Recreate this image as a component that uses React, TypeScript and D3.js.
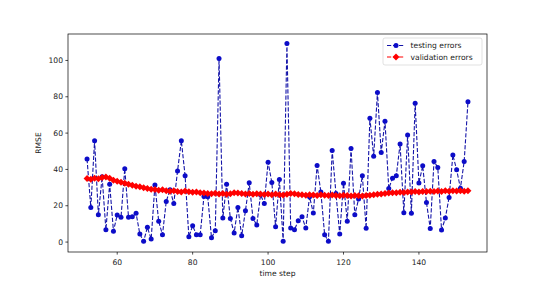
import React from 'react';
import * as d3 from 'd3';

const START_STEP = 52;

const testingErrors: number[] = [
  45.7, 19.1, 55.8, 15.0, 35.9, 6.8, 31.9, 6.0, 14.9, 13.6,
  40.4, 13.6, 14.0, 15.8, 4.4, 0.4, 8.1, 1.7, 31.4, 11.4,
  4.0, 22.4, 28.8, 21.3, 39.2, 55.8, 36.5, 2.9, 9.0, 4.0,
  4.0, 25.1, 25.0, 2.4, 6.2, 101.1, 13.2, 31.9, 13.0, 5.0,
  19.1, 3.5, 17.2, 32.6, 13.0, 9.4, 26.0, 21.3, 44.0, 32.8,
  8.4, 34.5, 0.4, 109.3, 7.7, 6.8, 11.7, 13.9, 7.7, 25.0,
  16.0, 42.2, 27.5, 4.0, 0.4, 50.4, 26.8, 4.4, 32.4, 11.5,
  51.5, 15.0, 23.7, 36.5, 7.6, 68.2, 47.2, 82.4, 49.3, 66.5,
  29.5, 35.2, 36.5, 54.0, 16.1, 58.9, 15.8, 76.5, 32.5, 42.0,
  21.8, 7.5, 44.4, 41.1, 6.6, 13.2, 24.6, 47.9, 39.8, 29.7,
  44.4, 77.2,
];

const validationErrors: number[] = [
  35.0, 34.6, 35.2, 34.8, 35.5, 35.8,
  35.2, 34.0, 33.5, 33.0, 32.4, 31.8,
  31.3, 30.8, 30.4, 29.9, 29.5, 29.1,
  28.9, 28.6, 28.8, 28.2, 28.0, 28.3,
  27.9, 27.6, 28.1, 27.7, 27.4, 27.6,
  27.2, 27.0, 26.8, 26.6, 26.9, 26.5,
  26.7, 26.3, 26.6, 27.2, 27.0, 26.8,
  26.5, 26.7, 26.3, 26.6, 26.4, 26.2,
  26.5, 26.1, 26.4, 26.0, 25.9, 26.3,
  26.8, 26.6, 26.2, 26.0, 25.8, 26.1,
  25.9, 25.7, 26.0, 25.8, 25.6, 25.9,
  25.7, 25.5, 25.8, 25.6, 25.4, 25.7,
  25.5, 25.3, 25.6, 25.8, 26.0, 26.3,
  26.5, 26.8, 27.0, 27.2, 27.1, 27.4,
  27.3, 27.6, 27.5, 27.8, 27.6, 27.9,
  27.8, 28.0, 27.9, 28.1, 27.9, 28.2,
  28.0, 28.2, 28.1, 28.3, 28.0, 28.2,
];

const xTicks = [60, 80, 100, 120, 140];
const yTicks = [0, 20, 40, 60, 80, 100];
const seriesNames = ['testing errors', 'validation errors'];

const W = 540;
const H = 283;
const L = 68, R = 487, T = 34, B = 252;
const FONT = 'DejaVu Sans, sans-serif';
const BLUE = '#0c0cc8';
const BLUE_LINE = '#1414a8';
const RED = '#ff0000';

export default function App() {
  const x = d3.scaleLinear().domain([46.95, 158.05]).range([L, R]);
  const y = d3.scaleLinear().domain([-5.47, 114.57]).range([B, T]);

  const seriesLine = d3.line<number>().x((_, i) => x(START_STEP + i)).y((d) => y(d));
  const diamond = (cx: number, cy: number, r: number) =>
    `M${cx},${cy - r}L${cx + r},${cy}L${cx},${cy + r}L${cx - r},${cy}Z`;

  const dash = '4.2,1.8';

  return (
    <svg width={W} height={H} style={{ position: 'absolute', left: 0, top: 0, background: '#fff' }} fontFamily={FONT}>
      <rect x={0} y={0} width={W} height={H} fill="#fff" />
      {/* testing series */}
      <path d={seriesLine(testingErrors) || ''} fill="none" stroke={BLUE_LINE} strokeWidth={1.1} strokeDasharray={dash} />
      {testingErrors.map((d, i) => (
        <circle key={'b' + i} cx={x(START_STEP + i)} cy={y(d)} r={2.5} fill={BLUE} />
      ))}
      {/* validation series */}
      <path d={seriesLine(validationErrors) || ''} fill="none" stroke={RED} strokeWidth={1.1} strokeDasharray={dash} />
      {validationErrors.map((d, i) => (
        <path key={'r' + i} d={diamond(x(START_STEP + i), y(d), 3.5)} fill={RED} />
      ))}
      {/* axes frame */}
      <rect x={L} y={T} width={R - L} height={B - T} fill="none" stroke="#000" strokeWidth={0.7} />
      {xTicks.map((t) => (
        <g key={'xt' + t}>
          <line x1={x(t)} x2={x(t)} y1={B} y2={B + 2.6} stroke="#000" strokeWidth={0.7} />
          <text x={x(t)} y={B + 10} fontSize={7.6} textAnchor="middle" dominantBaseline="central" fill="#222">{t}</text>
        </g>
      ))}
      {yTicks.map((t) => (
        <g key={'yt' + t}>
          <line x1={L - 2.6} x2={L} y1={y(t)} y2={y(t)} stroke="#000" strokeWidth={0.7} />
          <text x={L - 5} y={y(t)} fontSize={7.6} textAnchor="end" dominantBaseline="central" fill="#222">{t}</text>
        </g>
      ))}
      <text x={(L + R) / 2} y={273.5} fontSize={7.6} textAnchor="middle" dominantBaseline="central" fill="#222">time step</text>
      <text transform={`translate(38.5,${(T + B) / 2}) rotate(-90)`} fontSize={7.6} textAnchor="middle" dominantBaseline="central" fill="#222">RMSE</text>
      {/* legend */}
      <rect x={383} y={38} width={99} height={27} rx={2} fill="#fff" fillOpacity={0.8} stroke="#cccccc" strokeWidth={0.6} />
      {seriesNames.map((name, i) => {
        const ly = 45.5 + i * 11.5;
        const color = i === 0 ? BLUE : RED;
        return (
          <g key={name}>
            <line x1={387} x2={405} y1={ly} y2={ly} stroke={i === 0 ? BLUE_LINE : RED} strokeWidth={1.1} strokeDasharray={dash} />
            {i === 0 ? (
              <circle cx={396} cy={ly} r={2.5} fill={color} />
            ) : (
              <path d={diamond(396, ly, 3.5)} fill={color} />
            )}
            <text x={410.5} y={ly} fontSize={7.6} dominantBaseline="central" fill="#222">{name}</text>
          </g>
        );
      })}
    </svg>
  );
}
